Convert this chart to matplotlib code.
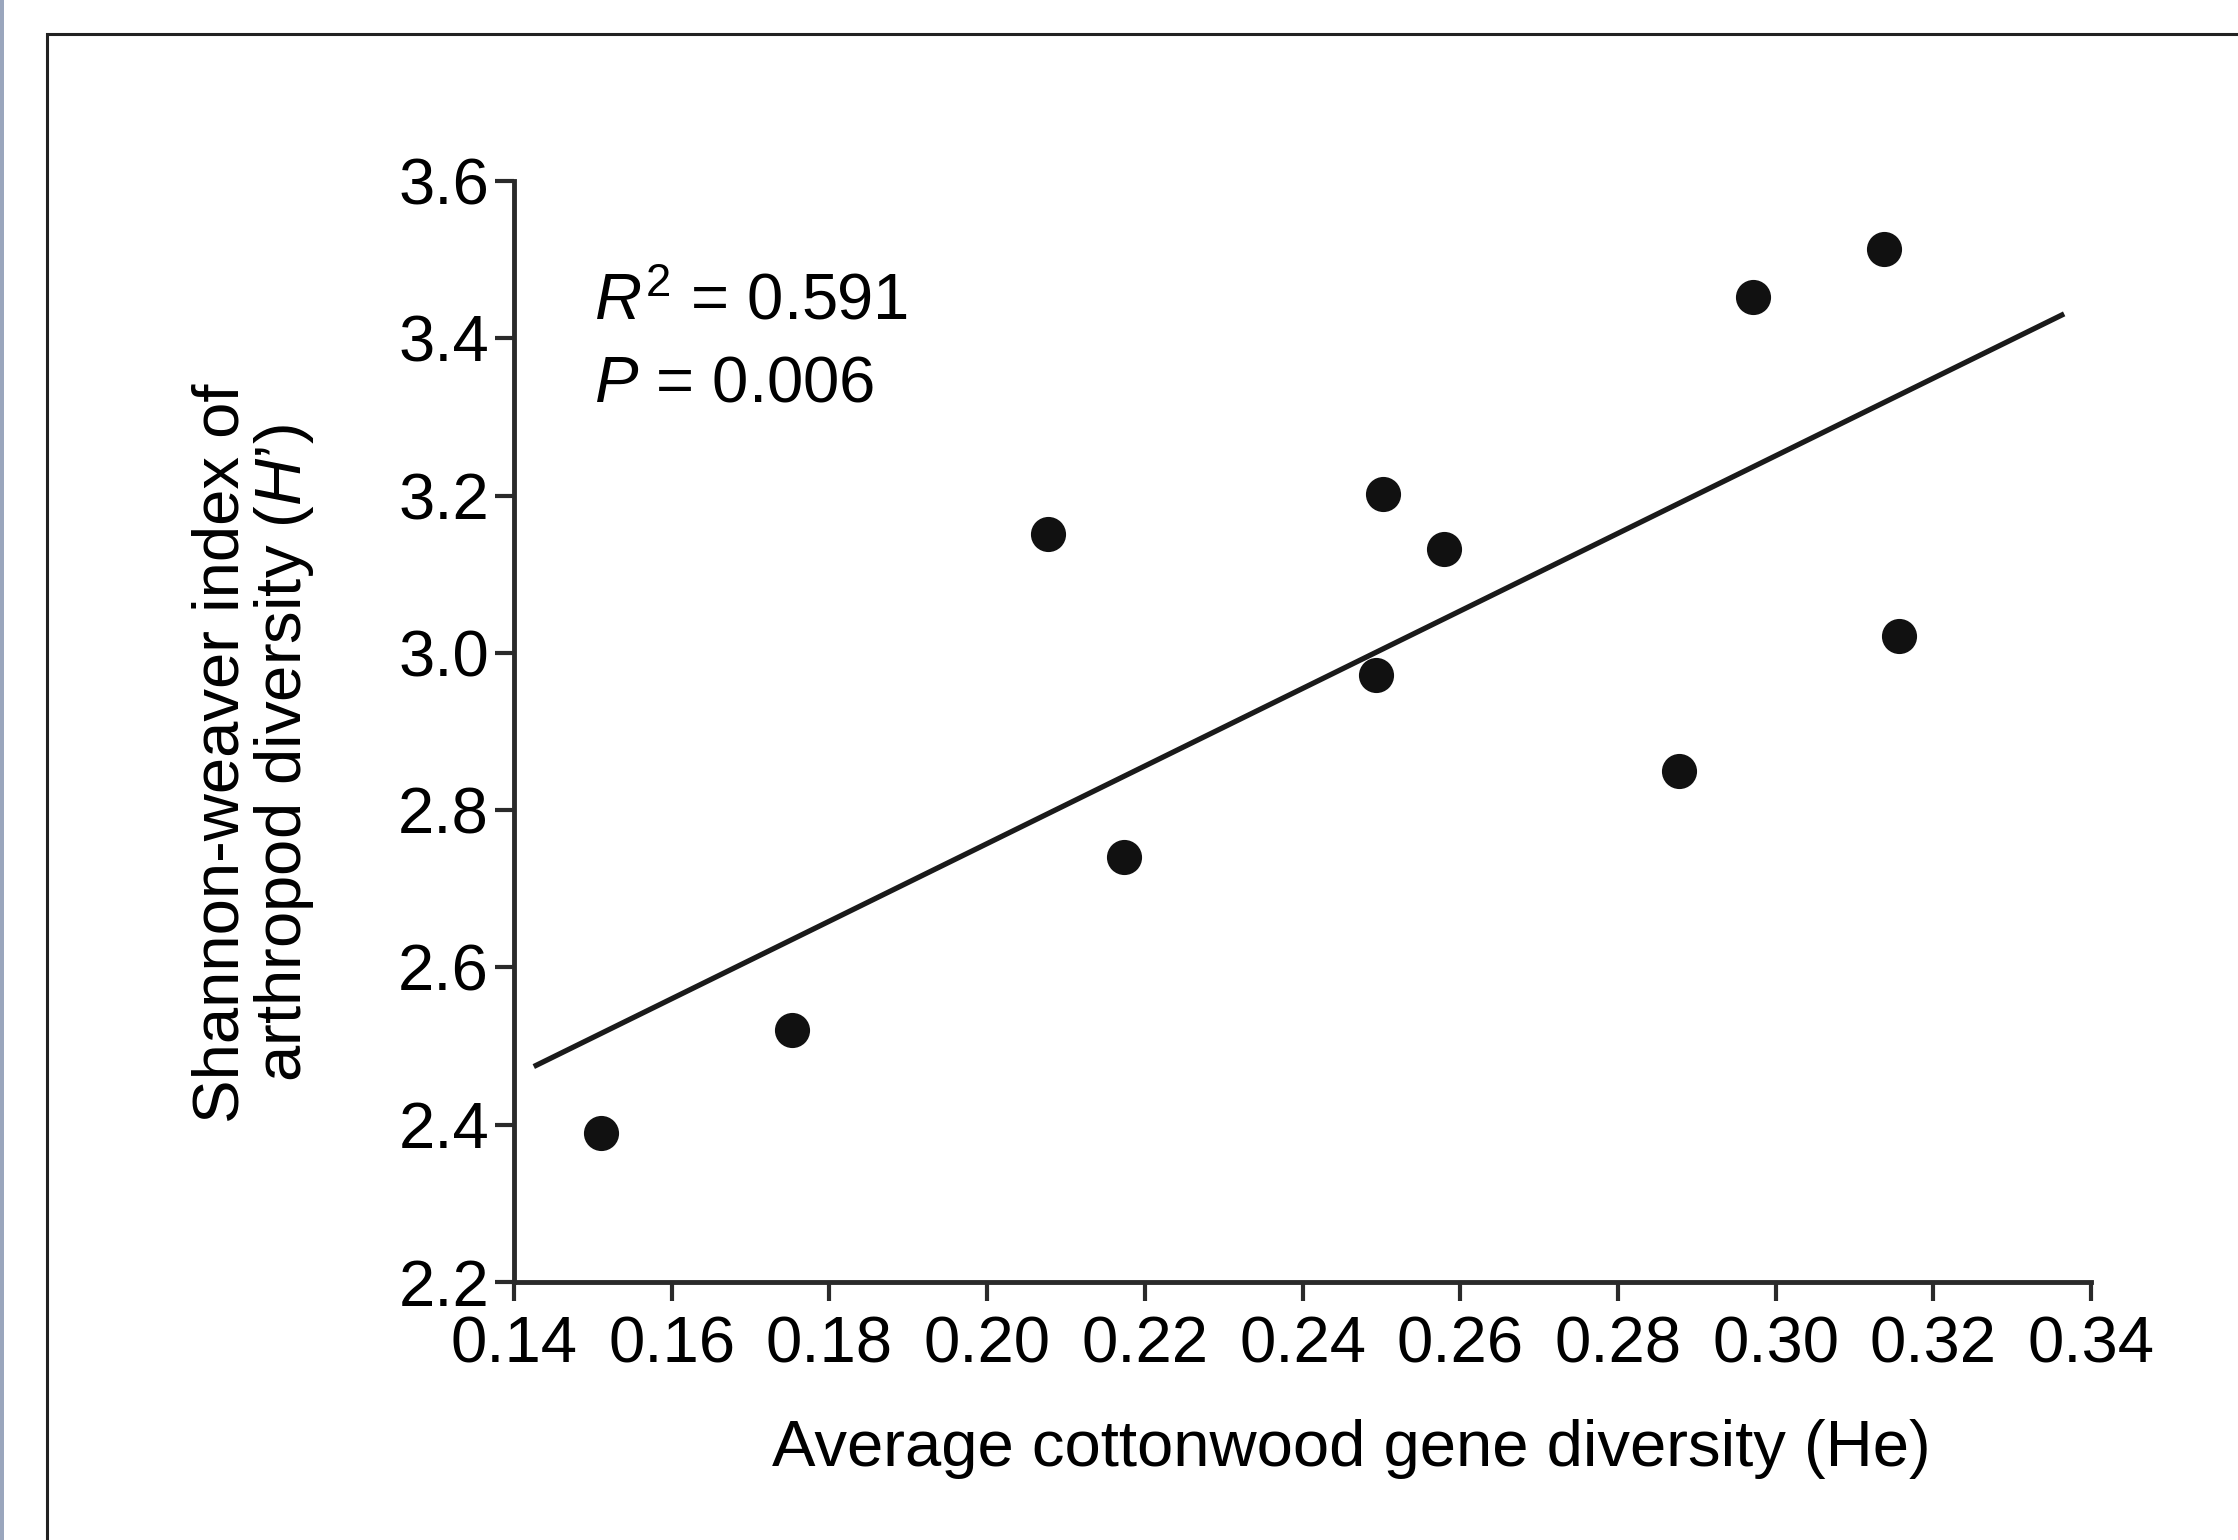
import matplotlib
matplotlib.use('Agg')
import matplotlib.pyplot as plt
from matplotlib.patches import Rectangle
import numpy as np

plt.rcParams['font.family'] = 'Liberation Sans'
plt.rcParams['mathtext.fontset'] = 'custom'
plt.rcParams['mathtext.rm'] = 'Liberation Sans'
plt.rcParams['mathtext.it'] = 'Liberation Sans:italic'

# data
gene_div = [0.151, 0.1753, 0.2077, 0.2173, 0.2493, 0.2502, 0.258, 0.2877, 0.2971, 0.3138, 0.3157]
arthropod_H = [2.39, 2.52, 3.151, 2.741, 2.972, 3.202, 3.132, 2.85, 3.453, 3.513, 3.021]
fit_x = [0.1425, 0.3366]
fit_y = [2.474, 3.431]
xticks = np.arange(0.14, 0.3401, 0.02)
yticks = np.arange(2.2, 3.601, 0.2)

fs = 47

fig = plt.figure(figsize=(22.38, 15.40), dpi=100)
ax = fig.add_axes([0.2297, 0.1675, 0.7046, 0.715])

# outer frame (only top and left visible in the original crop)
fig.patches.append(Rectangle((0.021, -0.05), 1.2, 1.028, transform=fig.transFigure,
                             fill=False, edgecolor='#222222', linewidth=2.2))
fig.patches.append(Rectangle((0, 0), 0.0018, 1, transform=fig.transFigure,
                             facecolor='#9aa6bd', edgecolor='none'))

ax.plot(fit_x, fit_y, color='#1a1a1a', linewidth=3.8, solid_capstyle='butt')
ax.scatter(gene_div, arthropod_H, s=640, color='#111111', zorder=3, linewidths=0)

ax.set_xlim(0.14, 0.34)
ax.set_ylim(2.2, 3.6)
ax.set_xticks(xticks)
ax.set_yticks(yticks)
ax.set_xticklabels(['%.2f' % v for v in xticks])
ax.set_yticklabels(['%.1f' % v for v in yticks])

for side in ['top', 'right']:
    ax.spines[side].set_visible(False)
for side in ['left', 'bottom']:
    ax.spines[side].set_linewidth(3.5)
    ax.spines[side].set_color('#2a2a2a')
ax.tick_params(direction='out', length=14, width=3, color='#2a2a2a',
               labelsize=fs, pad=4)
ax.tick_params(axis='x', pad=10)

ax.set_xlabel('Average cottonwood gene diversity (He)', fontsize=fs)
ax.xaxis.set_label_coords(0.531, -0.152)
ax.xaxis.label.set_va('center')
ax.set_ylabel("Shannon-weaver index of\narthropod diversity ($H\u2019$)", fontsize=fs,
              linespacing=1.0)
ax.yaxis.set_label_coords(-0.165, 0.48)
ax.yaxis.label.set_va('center')

ax.text(0.0505, 0.89, '$R^2$ = 0.591', transform=ax.transAxes, fontsize=fs,
        va='center', ha='left')
ax.text(0.0505, 0.815, '$P$ = 0.006', transform=ax.transAxes, fontsize=fs,
        va='center', ha='left')

fig.savefig('out.png', dpi=100)
